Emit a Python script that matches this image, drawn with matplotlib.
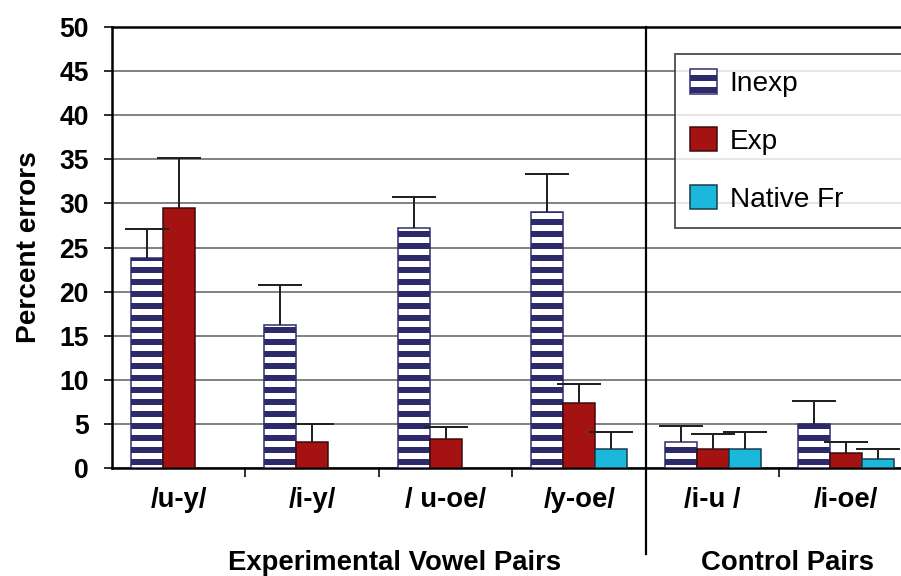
import numpy as np
import matplotlib
matplotlib.use("Agg")
import matplotlib.pyplot as plt

# drawn at 72 dpi so 1 pt == 1 px (also gives the wider stripe spacing)
DPI = 72
plt.rcParams["font.family"] = ["Liberation Sans", "DejaVu Sans"]
plt.rcParams["hatch.linewidth"] = 6

pairs = ["/u-y/", "/i-y/", "/ u-oe/", "/y-oe/", "/i-u /", "/i-oe/"]
series = ["Inexp", "Exp", "Native Fr"]
inexp = [23.8, 16.2, 27.2, 29.0, 2.9, 5.0]
inexp_err = [3.3, 4.5, 3.5, 4.3, 1.9, 2.6]
exp = [29.5, 2.9, 3.3, 7.4, 2.15, 1.7]
exp_err = [5.7, 2.1, 1.4, 2.1, 1.65, 1.2]
native = [np.nan, np.nan, np.nan, 2.15, 2.15, 1.0]
native_err = [np.nan, np.nan, np.nan, 1.9, 1.9, 1.1]
group_labels = ["Experimental Vowel Pairs", "Control Pairs"]

fig = plt.figure(figsize=(901 / DPI, 576 / DPI), dpi=DPI)
ax = fig.add_axes([0.1243, 0.1875, 0.889, 0.7656])

x = np.arange(len(pairs))
w = 0.24
navy, red, cyan = "#2d2a6c", "#a51212", "#1cb8dc"
styles = [dict(facecolor="white", edgecolor=navy, hatch="-"),
          dict(facecolor=red, edgecolor="#3a0a0a"),
          dict(facecolor=cyan, edgecolor="#123a4a")]
for k, (vals, errs) in enumerate([(inexp, inexp_err), (exp, exp_err), (native, native_err)]):
    pos = x + (k - 1) * w
    ax.bar(pos, vals, w, linewidth=1.5, label=series[k], zorder=3, **styles[k])
    eb = ax.errorbar(pos, vals, yerr=[np.zeros(len(errs)), errs], fmt="none",
                     ecolor="#222222", elinewidth=2, capsize=22, capthick=2, zorder=4)
    eb.lines[1][0].set_visible(False)   # only the upper cap

ax.set_xlim(-0.5, 5.5)
ax.set_ylim(0, 50)
ax.set_yticks(np.arange(0, 51, 5))
ax.yaxis.grid(True, color="#777777", lw=1.8, zorder=0)
ax.set_axisbelow(True)
for lab in ax.get_yticklabels():
    lab.set_fontweight("bold")
ax.tick_params(axis="y", labelsize=26.5, length=8, width=1.6, pad=15)
ax.set_xticks(x)
ax.set_xticklabels(pairs, fontsize=27.5, fontweight="bold")
ax.set_xticks(x[:-1] + 0.5, minor=True)
ax.tick_params(axis="x", which="major", length=0, pad=19)
ax.tick_params(axis="x", which="minor", length=9, width=1.6)
ax.set_ylabel("Percent errors", fontsize=28, fontweight="bold", labelpad=17)
for s in ["left", "bottom", "top"]:
    ax.spines[s].set_linewidth(2.5)
ax.spines["right"].set_visible(False)

# divider between experimental and control pairs
trans = ax.get_xaxis_transform()
ax.plot([3.5, 3.5], [1.0, -0.195], color="black", lw=2.2, transform=trans, clip_on=False, zorder=5)
ax.text(1.615, -0.231, group_labels[0], transform=trans, ha="center", va="baseline",
        fontsize=27.5, fontweight="bold")
ax.text(4.56, -0.231, group_labels[1], transform=trans, ha="center", va="baseline",
        fontsize=27.5, fontweight="bold")

leg = ax.legend(loc="upper left", bbox_to_anchor=(675 / 901, 1 - 54 / 576, 0.3, 0),
                bbox_transform=fig.transFigure, mode="expand", fontsize=28,
                handlelength=0.95, handleheight=0.95, labelspacing=1.08,
                borderpad=0.55, handletextpad=0.45, borderaxespad=0, fancybox=False)
leg.get_frame().set_edgecolor("#333333")
leg.get_frame().set_linewidth(2)

fig.savefig("out.png", dpi=DPI)
